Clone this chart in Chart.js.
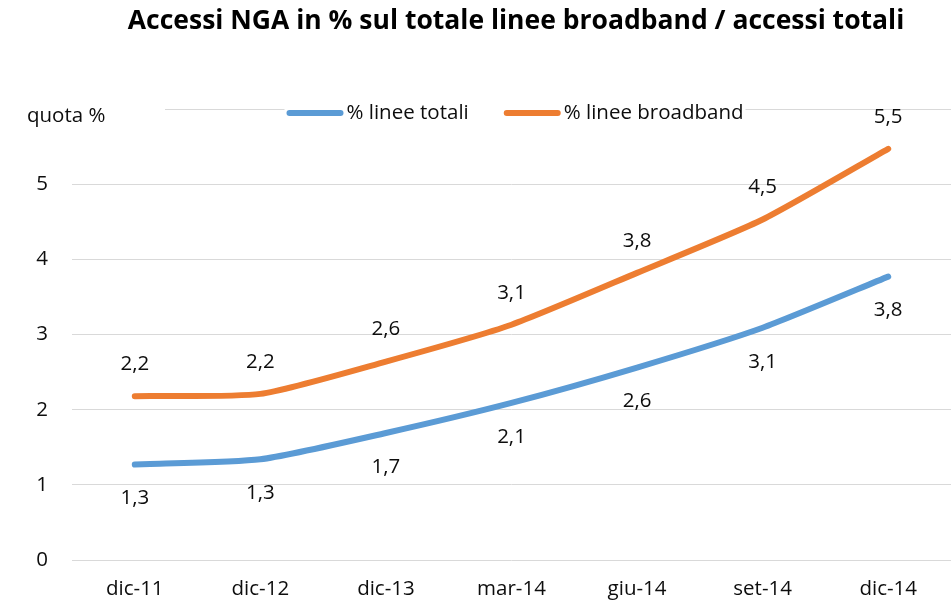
<!DOCTYPE html>
<html>
<head>
<meta charset="utf-8">
<script src="https://cdn.jsdelivr.net/npm/chart.js@4"></script>
<style>
  html, body { margin: 0; padding: 0; background: #fff; }
  #wrap { width: 951px; height: 604px; }
</style>
</head>
<body>
<div id="wrap"><canvas id="c" width="951" height="604"></canvas></div>
<script>
// ---- data ----
const categories = ['dic-11', 'dic-12', 'dic-13', 'mar-14', 'giu-14', 'set-14', 'dic-14'];
const seriesNames = ['% linee totali', '% linee broadband'];
const lineeTotali = [1.27, 1.34, 1.69, 2.09, 2.56, 3.09, 3.77];
const lineeBroadband = [2.18, 2.21, 2.64, 3.13, 3.82, 4.53, 5.47];
const yTickValues = [0, 1, 2, 3, 4, 5];
const yMaxValue = 6;
const chartTitle = 'Accessi NGA in % sul totale linee broadband / accessi totali';
const axisTitle = 'quota %';

// ---- styles ----
const FAMILY = '"Open Sans", Lato, sans-serif';
const COL_BLUE = '#5B9BD5';
const COL_ORANGE = '#ED7D31';
const TEXT_COL = '#0d0d0d';
const GRID_COL = '#D9D9D9';

function fitSize(text, weight, target) {
  const c = document.createElement('canvas').getContext('2d');
  for (let s = 40; s > 8; s -= 0.25) {
    c.font = weight + ' ' + s + 'px ' + FAMILY;
    if (c.measureText(text).width <= target) return s;
  }
  return 12;
}
const bodySize = (fitSize('dic-14', 'normal', 58) + fitSize('% linee broadband', 'normal', 181)) / 2;
const titleSize = fitSize(chartTitle, 'bold', 782);
const fmt = v => v.toFixed(1).replace('.', ',');

const overlayPlugin = {
  id: 'overlay',
  afterLayout(chart) {
    const tb = chart.titleBlock;
    if (tb) { tb.left += 40.5; tb.right += 40.5; }
  },
  beforeDatasetsDraw(chart) {
    const ctx = chart.ctx;
    const area = chart.chartArea;
    const yTop = chart.scales.y.getPixelForValue(yMaxValue);
    ctx.save();
    // mask top gridline near axis title
    ctx.fillStyle = '#fff';
    ctx.fillRect(area.left - 1, yTop - 3, 166 - area.left, 6);
    // axis title
    ctx.font = 'normal ' + bodySize + 'px ' + FAMILY;
    ctx.fillStyle = TEXT_COL;
    ctx.textBaseline = 'middle';
    ctx.textAlign = 'left';
    ctx.fillText(axisTitle, 27, yTop + 7);
    // legend
    const colors = [COL_BLUE, COL_ORANGE];
    const lineLen = 57, gapText = 3, gapItems = 35;
    const widths = seriesNames.map(n => ctx.measureText(n).width);
    const total = lineLen * 2 + gapText * 2 + widths[0] + widths[1] + gapItems;
    const cx = 515;
    let x = cx - total / 2;
    const ly = yTop + 4;
    ctx.fillStyle = '#fff';
    ctx.fillRect(x - 2, ly - 11, total + 4, 22);
    seriesNames.forEach((n, i) => {
      ctx.strokeStyle = colors[i];
      ctx.lineWidth = 6;
      ctx.lineCap = 'round';
      ctx.beginPath();
      ctx.moveTo(x + 3, ly);
      ctx.lineTo(x + lineLen - 3, ly);
      ctx.stroke();
      x += lineLen + gapText;
      ctx.fillStyle = TEXT_COL;
      ctx.fillText(n, x, ly);
      x += widths[i] + gapItems;
    });
    ctx.restore();
  },
  afterDatasetsDraw(chart) {
    const ctx = chart.ctx;
    ctx.save();
    ctx.font = 'normal ' + bodySize + 'px ' + FAMILY;
    ctx.fillStyle = TEXT_COL;
    ctx.textAlign = 'center';
    ctx.textBaseline = 'middle';
    chart.data.datasets.forEach((ds, di) => {
      const meta = chart.getDatasetMeta(di);
      const off = di === 0 ? 34 : -32;
      meta.data.forEach((pt, i) => {
        ctx.fillText(fmt(ds.data[i]), pt.x, pt.y + off);
      });
    });
    ctx.restore();
  }
};

new Chart(document.getElementById('c'), {
  type: 'line',
  data: {
    labels: categories,
    datasets: [
      { label: seriesNames[0], data: lineeTotali, borderColor: COL_BLUE, backgroundColor: COL_BLUE },
      { label: seriesNames[1], data: lineeBroadband, borderColor: COL_ORANGE, backgroundColor: COL_ORANGE }
    ]
  },
  options: {
    responsive: false,
    animation: false,
    devicePixelRatio: 1,
    layout: { padding: 0 },
    elements: {
      line: { borderWidth: 6, tension: 0.2, borderCapStyle: 'round', borderJoinStyle: 'round', fill: false },
      point: { radius: 0, hoverRadius: 0 }
    },
    plugins: {
      legend: { display: false },
      tooltip: { enabled: false },
      title: {
        display: true,
        text: chartTitle,
        color: '#000',
        font: { family: FAMILY, weight: 'bold', size: titleSize, lineHeight: 1.2 },
        padding: { top: 6, bottom: 109 - 6 - titleSize * 1.2 }
      }
    },
    scales: {
      x: {
        offset: true,
        grid: { display: false, drawTicks: false },
        border: { display: false },
        ticks: { color: TEXT_COL, font: { family: FAMILY, size: bodySize }, padding: 17, maxRotation: 0, autoSkip: false },
        afterFit(s) { s.height = 44; }
      },
      y: {
        min: 0,
        max: yMaxValue,
        grid: { color: GRID_COL, lineWidth: 1, drawTicks: false },
        border: { display: false },
        afterBuildTicks(s) { s.ticks = yTickValues.concat([yMaxValue]).map(v => ({ value: v })); },
        ticks: {
          color: TEXT_COL,
          font: { family: FAMILY, size: bodySize },
          padding: 24,
          callback: v => (yTickValues.includes(v) ? String(v) : '')
        },
        afterFit(s) { s.width = 72; }
      }
    }
  },
  plugins: [overlayPlugin]
});
</script>
</body>
</html>
